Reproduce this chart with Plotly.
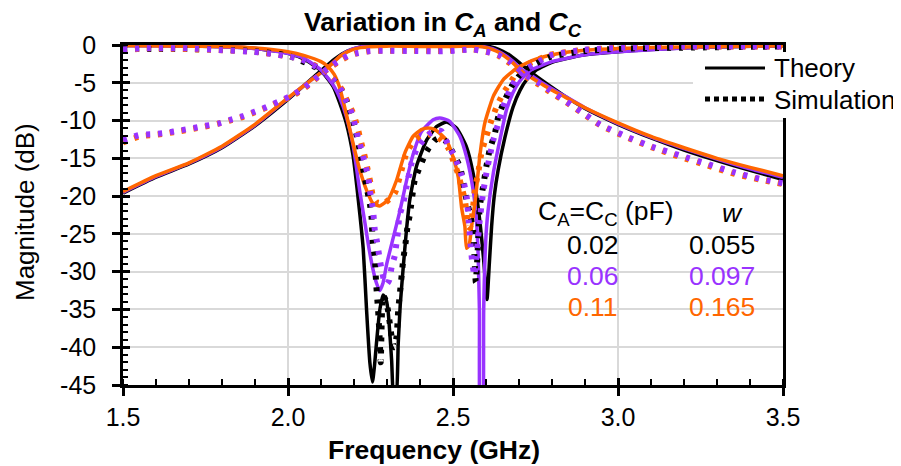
import plotly.graph_objects as go

# ---------------- data ----------------
BLACK = "#000000"
PURPLE = "#9933FF"
ORANGE = "#FF6600"

X_TICKS = [1.5, 2.0, 2.5, 3.0, 3.5]
X_TICK_TEXT = ["1.5", "2.0", "2.5", "3.0", "3.5"]
Y_TICKS = [0, -5, -10, -15, -20, -25, -30, -35, -40, -45]
Y_TICK_TEXT = ["0", "-5", "-10", "-15", "-20", "-25", "-30", "-35", "-40", "-45"]

# Theory |S21|
F_S21_TH_BLACK = [1.5, 1.6, 1.7, 1.8, 1.9, 2.0, 2.05, 2.1, 2.14, 2.18, 2.22, 2.26, 2.3, 2.4, 2.5, 2.58,
                  2.61, 2.64, 2.67, 2.7, 2.733, 2.77, 2.84, 2.9, 3.0, 3.1, 3.2, 3.3, 3.4, 3.5]
DB_S21_TH_BLACK = [-19.6, -17.5, -15.75, -13.6, -10.7, -7.2, -5.3, -3.4, -1.9, -0.8, -0.25, -0.05, 0, 0, 0, -0.05,
                   -0.2, -0.6, -1.3, -2.3, -3.5, -4.7, -6.8, -8.4, -10.5, -12.3, -13.9, -15.3, -16.6, -17.8]

F_S21_TH = [1.5, 1.6, 1.7, 1.8, 1.9, 2.0, 2.05, 2.08, 2.12, 2.16, 2.19, 2.22, 2.3, 2.4, 2.5, 2.56, 2.59,
            2.62, 2.64, 2.66, 2.68, 2.71, 2.74, 2.77, 2.8, 2.84, 2.9, 3.0, 3.1, 3.2, 3.3, 3.4, 3.5]
DB_S21_TH_PURPLE = [-19.5, -17.4, -15.65, -13.5, -10.6, -7.05, -5.3, -4.3, -3.0, -1.4, -0.6, -0.25, -0.05, -0.05,
                    -0.05, -0.1, -0.2, -0.5, -0.9, -1.4, -2.1, -3.3, -4.1, -5.0, -5.8, -6.8, -8.3, -10.4,
                    -12.2, -13.7, -15.1, -16.4, -17.5]
DB_S21_TH_ORANGE = [-19.4, -17.3, -15.6, -13.4, -10.5, -7.0, -5.3, -4.3, -3.0, -1.4, -0.7, -0.35, -0.15, -0.2,
                    -0.2, -0.15, -0.25, -0.6, -1.0, -1.6, -2.3, -3.6, -4.4, -5.2, -6.0, -6.9, -8.3, -10.3,
                    -12.1, -13.6, -15.0, -16.2, -17.3]

# Theory |S11|
F_S11_TH_BLACK = [1.5, 1.6, 1.7, 1.8, 1.9, 2.0, 2.05, 2.1, 2.137, 2.157, 2.177, 2.197, 2.208, 2.218, 2.228,
                  2.238, 2.248, 2.256, 2.262, 2.268, 2.278, 2.288, 2.296, 2.303, 2.314, 2.321, 2.327, 2.334,
                  2.34, 2.349, 2.359, 2.369, 2.389, 2.42, 2.45, 2.48, 2.511, 2.541, 2.561, 2.581, 2.593,
                  2.603, 2.61, 2.617, 2.625, 2.637, 2.657, 2.682, 2.703, 2.723, 2.753, 2.8, 2.844, 2.9, 3.0,
                  3.1, 3.25, 3.5]
DB_S11_TH_BLACK = [-0.05, -0.07, -0.12, -0.2, -0.45, -1.1, -1.9, -3.4, -5.5, -7.7, -10.4, -14.6, -18.5, -22.5,
                   -27.0, -35.0, -42.0, -44.6, -42.5, -39.5, -35.1, -33.1, -33.5, -35.1, -41.7, -47.0, -47.0,
                   -39.5, -34.5, -29.5, -24.5, -20.5, -16.1, -12.6, -10.8, -10.2, -11.0, -13.5, -17.0, -23.2,
                   -28.5, -33.7, -29.0, -24.0, -20.0, -16.5, -12.3, -8.2, -6.0, -4.6, -3.3, -2.3, -1.8, -1.3,
                   -0.9, -0.6, -0.3, -0.1]

F_S11_TH_PURPLE = [1.5, 1.7, 1.9, 2.0, 2.05, 2.1, 2.137, 2.157, 2.177, 2.197, 2.218, 2.233, 2.243, 2.258, 2.268,
                   2.278, 2.288, 2.299, 2.319, 2.339, 2.359, 2.379, 2.404, 2.44, 2.46, 2.49, 2.521, 2.541,
                   2.561, 2.571, 2.576, 2.58, 2.584, 2.588, 2.593, 2.599, 2.606, 2.622, 2.642, 2.662, 2.682,
                   2.702, 2.733, 2.8, 2.9, 3.0, 3.25, 3.5]
DB_S11_TH_PURPLE = [-0.05, -0.12, -0.45, -1.1, -1.8, -3.3, -5.3, -7.0, -9.5, -13.2, -19.5, -23.5, -26.3, -29.8,
                    -31.5, -32.5, -31.5, -29.0, -25.5, -22.0, -18.0, -14.5, -11.5, -9.9, -9.65, -10.1, -12.1,
                    -14.8, -19.2, -23.2, -27.5, -35.0, -55.0, -55.0, -35.0, -26.0, -22.0, -17.0, -12.6, -8.6,
                    -6.3, -4.8, -3.4, -2.2, -1.3, -0.9, -0.3, -0.1]

F_S11_TH_ORANGE = [1.5, 1.8, 1.9, 2.0, 2.05, 2.1, 2.12, 2.14, 2.157, 2.177, 2.197, 2.218, 2.238, 2.258, 2.278,
                   2.303, 2.329, 2.354, 2.379, 2.404, 2.425, 2.445, 2.46, 2.48, 2.5, 2.516, 2.526, 2.536,
                   2.541, 2.549, 2.555, 2.561, 2.566, 2.571, 2.581, 2.596, 2.622, 2.652, 2.692, 2.743, 2.793,
                   2.844, 2.9, 3.0, 3.2, 3.5]
DB_S11_TH_ORANGE = [-0.05, -0.2, -0.4, -0.9, -1.4, -2.2, -2.8, -3.9, -5.7, -9.2, -13.0, -16.6, -19.2, -21.0,
                    -21.3, -20.5, -17.9, -14.3, -12.1, -11.2, -11.0, -11.2, -11.7, -12.6, -14.8, -17.5, -21.5,
                    -24.0, -26.9, -26.5, -24.5, -22.5, -21.0, -19.2, -14.8, -10.4, -6.8, -4.6, -3.1, -2.0,
                    -1.35, -0.95, -0.7, -0.45, -0.25, -0.1]

# Simulation |S21|
F_S21_SIM = [1.5, 1.551, 1.592, 1.632, 1.673, 1.713, 1.748, 1.789, 1.824, 1.864, 1.9, 1.935, 1.97, 2.006,
             2.041, 2.071, 2.102, 2.127, 2.157, 2.187, 2.208, 2.248, 2.3, 2.39, 2.445, 2.485, 2.52, 2.561,
             2.601, 2.637, 2.672, 2.702, 2.728, 2.763, 2.793, 2.844, 2.904, 2.945, 3.025, 3.106, 3.187,
             3.268, 3.348, 3.429, 3.5]
DB_S21_SIM_PURPLE = [-12.6, -11.9, -11.8, -11.6, -11.3, -11.0, -10.7, -10.4, -9.9, -9.4, -8.8, -8.2, -7.5,
                     -6.8, -5.9, -4.9, -3.75, -2.9, -2.0, -1.3, -1.1, -0.8, -0.75, -0.8, -0.85, -0.8, -0.7,
                     -0.6, -0.9, -1.3, -2.2, -3.3, -4.2, -5.1, -6.0, -7.5, -9.3, -10.5, -12.1, -13.5, -14.6,
                     -15.7, -16.8, -17.7, -18.3]
DB_S21_SIM_ORANGE = [-12.9, -12.1, -11.9, -11.7, -11.4, -11.1, -10.8, -10.4, -10.0, -9.5, -8.9, -8.3, -7.6,
                     -6.9, -6.0, -5.0, -3.8, -3.0, -2.1, -1.4, -1.1, -0.8, -0.75, -0.75, -0.8, -0.75, -0.65,
                     -0.6, -0.9, -1.4, -2.4, -3.5, -4.4, -5.3, -6.2, -7.6, -9.4, -10.6, -12.2, -13.6, -14.8,
                     -15.9, -17.0, -17.8, -18.4]

# Simulation |S11|
F_S11_SIM_PURPLE = [1.5, 1.56, 1.7, 1.79, 1.895, 1.955, 1.996, 2.036, 2.076, 2.107, 2.137, 2.162, 2.177, 2.193,
                    2.203, 2.213, 2.223, 2.233, 2.243, 2.248, 2.258, 2.263, 2.27, 2.276, 2.283, 2.293, 2.3,
                    2.307, 2.314, 2.324, 2.329, 2.334, 2.337, 2.349, 2.359, 2.374, 2.39, 2.41, 2.43, 2.45,
                    2.465, 2.485, 2.505, 2.531, 2.541, 2.548, 2.554, 2.559, 2.565, 2.571, 2.576, 2.581, 2.591,
                    2.601, 2.611, 2.622, 2.637, 2.652, 2.672, 2.692, 2.717, 2.753, 2.793, 2.894, 3.045, 3.2, 3.5]
DB_S11_SIM_PURPLE = [-0.6, -0.45, -0.45, -0.66, -0.9, -1.2, -1.5, -1.8, -2.65, -3.5, -4.6, -6.0, -7.5, -9.0,
                     -10.6, -12.4, -13.9, -15.7, -17.4, -19.2, -22.0, -24.5, -26.1, -27.8, -29.6, -31.4, -31.6,
                     -31.1, -29.4, -27.8, -26.1, -24.5, -22.7, -21.0, -18.8, -15.7, -13.8, -12.6, -11.7, -11.3,
                     -11.4, -13.2, -14.8, -17.9, -20.0, -23.5, -26.8, -29.0, -30.5, -28.0, -25.5, -23.2, -19.6,
                     -17.0, -14.8, -12.6, -10.4, -8.2, -6.0, -4.4, -3.3, -2.4, -1.4, -0.66, -0.3, -0.2, -0.2]

F_S11_SIM_ORANGE = [1.5, 1.56, 1.79, 1.9, 2.0, 2.04, 2.08, 2.11, 2.14, 2.165, 2.18, 2.197, 2.21, 2.22, 2.23,
                    2.24, 2.25, 2.258, 2.273, 2.29, 2.31, 2.324, 2.339, 2.359, 2.38, 2.40, 2.425, 2.45, 2.465,
                    2.485, 2.5, 2.515, 2.526, 2.536, 2.541, 2.546, 2.551, 2.556, 2.561, 2.566, 2.576, 2.586,
                    2.601, 2.617, 2.632, 2.652, 2.672, 2.692, 2.723, 2.753, 2.793, 2.894, 3.045, 3.3, 3.5]
DB_S11_SIM_ORANGE = [-0.8, -0.45, -0.66, -0.9, -1.5, -1.8, -2.65, -3.5, -4.6, -6.0, -7.5, -9.0, -10.8, -12.6,
                     -14.3, -16.2, -18.3, -20.1, -21.0, -21.0, -20.3, -19.6, -17.4, -14.3, -12.8, -12.1, -11.8,
                     -12.1, -12.6, -13.6, -15.2, -17.0, -18.8, -20.5, -22.3, -24.0, -24.2, -23.2, -21.4, -19.2,
                     -17.0, -14.3, -12.1, -9.9, -8.2, -6.4, -5.1, -3.75, -2.65, -2.0, -1.3, -0.66, -0.3, -0.2,
                     -0.2]

F_S11_SIM_BLACK = [1.5, 1.8, 1.9, 2.0, 2.1, 2.137, 2.16, 2.18, 2.203, 2.22, 2.233, 2.248, 2.253, 2.257, 2.263,
                   2.267, 2.273, 2.278, 2.281, 2.288, 2.296, 2.303, 2.314, 2.321, 2.329, 2.334, 2.339, 2.349,
                   2.356, 2.362, 2.369, 2.384, 2.40, 2.42, 2.445, 2.46, 2.48, 2.5, 2.521, 2.541, 2.551, 2.561,
                   2.565, 2.569, 2.574, 2.578, 2.581, 2.591, 2.601, 2.611, 2.627, 2.637, 2.657, 2.677, 2.702,
                   2.733, 2.793, 2.9, 3.0, 3.5]
DB_S11_SIM_BLACK = [-0.5, -0.6, -0.85, -1.4, -3.3, -4.5, -5.8, -7.6, -11.0, -14.5, -17.7, -21.0, -22.7, -26.3,
                    -28.0, -31.5, -35.1, -39.0, -42.0, -33.1, -33.8, -35.1, -38.6, -40.0, -38.6, -35.1, -32.9,
                    -28.5, -26.3, -24.1, -22.5, -17.9, -16.1, -14.1, -12.6, -12.3, -12.8, -14.3, -16.1, -20.5,
                    -22.3, -24.5, -28.0, -31.4, -28.0, -24.0, -21.4, -18.8, -16.1, -13.9, -11.7, -9.5, -7.3,
                    -5.5, -4.0, -2.9, -1.6, -0.8, -0.5, -0.2]

TABLE_HEAD = ["C<sub>A</sub>=C<sub>C</sub> (pF)", "<i>w</i>"]
TABLE_CA = ["0.02", "0.06", "0.11"]
TABLE_W = ["0.055", "0.097", "0.165"]
TABLE_COLORS = [BLACK, PURPLE, ORANGE]

# ---------------- layout geometry ----------------
# The page body adds an 8 px margin, so the figure is 8 px smaller and all
# page-pixel positions below are converted to figure pixels.
OFF = 8
W, H = 901 - OFF, 466 - OFF
L, T = 123 - OFF, 45 - OFF
PW, PH = 660, 340
R, B = W - L - PW, H - T - PH


def px(xp):  # page pixel -> paper x
    return (xp - OFF - L) / PW


def py(yp):  # page pixel -> paper y
    return (T + PH - (yp - OFF)) / PH


FONT = "Liberation Sans, Arial, sans-serif"
DOT = "4px,8px"
SOLID_W = 3.5
DOT_W = 6

fig = go.Figure()


def add(f, db, color, dotted):
    fig.add_trace(go.Scatter(
        x=f, y=db, mode="lines", hoverinfo="skip", showlegend=False,
        line=dict(color=color, width=DOT_W if dotted else SOLID_W, dash=DOT if dotted else "solid",
                  shape="spline", smoothing=0.5),
    ))


add(F_S21_TH_BLACK, DB_S21_TH_BLACK, BLACK, False)
add(F_S21_TH, DB_S21_TH_PURPLE, PURPLE, False)
add(F_S21_TH, DB_S21_TH_ORANGE, ORANGE, False)
add(F_S11_TH_BLACK, DB_S11_TH_BLACK, BLACK, False)
add(F_S11_TH_PURPLE, DB_S11_TH_PURPLE, PURPLE, False)
add(F_S11_TH_ORANGE, DB_S11_TH_ORANGE, ORANGE, False)
add(F_S11_SIM_BLACK, DB_S11_SIM_BLACK, BLACK, True)
add(F_S11_SIM_ORANGE, DB_S11_SIM_ORANGE, ORANGE, True)
add(F_S11_SIM_PURPLE, DB_S11_SIM_PURPLE, PURPLE, True)
add(F_S21_SIM, DB_S21_SIM_ORANGE, ORANGE, True)
add(F_S21_SIM, DB_S21_SIM_PURPLE, PURPLE, True)

# invisible trace for overlay axes (inner half of crossing major ticks)
fig.add_trace(go.Scatter(x=[None], y=[None], xaxis="x2", yaxis="y2", showlegend=False, hoverinfo="skip"))

axis_common = dict(
    showgrid=True, gridcolor="#D9D9D9", gridwidth=2, zeroline=False,
    showline=True, linecolor="black", linewidth=2.5, mirror=True,
    ticks="outside", ticklen=8, tickwidth=2.5, tickcolor="black",
    tickfont=dict(family=FONT, size=25, color="black"),
)

fig.update_layout(
    width=W, height=H, margin=dict(l=L, r=R, t=T, b=B),
    paper_bgcolor="white", plot_bgcolor="white", showlegend=False,
    font=dict(family=FONT, size=25, color="black"),
    xaxis=dict(range=[1.5, 3.5], tickmode="array", tickvals=X_TICKS, ticktext=X_TICK_TEXT,
               ticklabelstandoff=0,
               minor=dict(tickmode="linear", tick0=1.5, dtick=0.1, ticks="inside", ticklen=6,
                          tickwidth=2, tickcolor="black", showgrid=False),
               **axis_common),
    yaxis=dict(range=[-45, 0], tickmode="array", tickvals=Y_TICKS, ticktext=Y_TICK_TEXT,
               ticklabelstandoff=11,
               minor=dict(tickmode="linear", tick0=0, dtick=1, ticks="inside", ticklen=5,
                          tickwidth=2, tickcolor="black", showgrid=False),
               **axis_common),
    xaxis2=dict(range=[1.5, 3.5], overlaying="x", anchor="y", side="bottom", tickmode="array",
                tickvals=X_TICKS, ticks="inside", ticklen=7, tickwidth=2.5, tickcolor="black",
                showticklabels=False, showgrid=False, showline=False, zeroline=False),
    yaxis2=dict(range=[-45, 0], overlaying="y", anchor="x", side="left", tickmode="array",
                tickvals=Y_TICKS, ticks="inside", ticklen=7, tickwidth=2.5, tickcolor="black",
                showticklabels=False, showgrid=False, showline=False, zeroline=False),
)

shapes = []
# table background (hides gridlines only)
shapes.append(dict(type="rect", xref="paper", yref="paper", x0=px(538), x1=px(773), y0=py(330), y1=py(198),
                   fillcolor="white", line=dict(width=0), layer="between"))
# legend background
shapes.append(dict(type="rect", xref="paper", yref="paper", x0=px(693), x1=px(901), y0=py(118), y1=py(52),
                   fillcolor="white", line=dict(width=0), layer="above"))
# legend samples
shapes.append(dict(type="line", xref="paper", yref="paper", x0=px(705), x1=px(765), y0=py(68), y1=py(68),
                   line=dict(color=BLACK, width=3), layer="above"))
shapes.append(dict(type="line", xref="paper", yref="paper", x0=px(705), x1=px(765), y0=py(99), y1=py(99),
                   line=dict(color=BLACK, width=5, dash="5px,4px"), layer="above"))
fig.update_layout(shapes=shapes)

ann = []


def text(x, y, s, size=27, color="black", xanchor="center", angle=0):
    ann.append(dict(xref="paper", yref="paper", x=px(x), y=py(y), text=s, showarrow=False,
                    xanchor=xanchor, yanchor="middle", textangle=angle, borderpad=0,
                    font=dict(family=FONT, size=size, color=color)))


text(443, 24, "<b>Variation in <i>C<sub>A</sub></i> and <i>C<sub>C</sub></i></b>", size=26.5)
text(434, 450, "<b>Frequency (GHz)</b>", size=26.5)
text(25, 212, "Magnitude (dB)", size=26, angle=-90)
text(773, 68, "Theory", size=26, xanchor="left")
text(773, 100, "Simulation", size=26, xanchor="left")
text(605, 213, TABLE_HEAD[0], size=26.5)
text(732, 213, TABLE_HEAD[1], size=26.5)
for i, (ca, w, c) in enumerate(zip(TABLE_CA, TABLE_W, TABLE_COLORS)):
    yy = 245 + i * 31
    text(593, yy, ca, size=26.5, color=c)
    text(722, yy, w, size=26.5, color=c)
fig.update_layout(annotations=ann)

fig.write_html("out.html")
